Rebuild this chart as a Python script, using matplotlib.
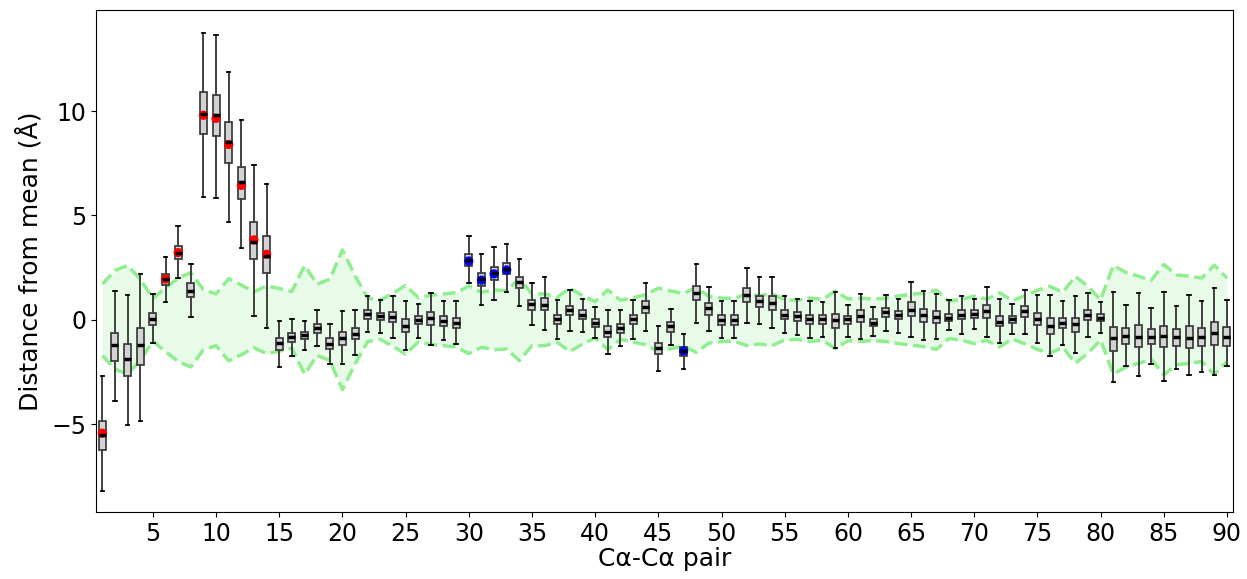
import numpy as np
import matplotlib
matplotlib.use("Agg")
from matplotlib import pyplot as plt

# Ca-Ca pair index
pairs = list(range(1, 91))

# box statistics (Angstrom)
med = [-5.53, -1.23, -1.87, -1.20, 0.02, 1.95, 3.22, 1.39, 9.86, 9.81,
       8.52, 6.60, 3.72, 3.05, -1.13, -0.83, -0.75, -0.40, -1.16, -0.86,
       -0.66, 0.27, 0.16, 0.14, -0.29, -0.02, 0.08, -0.05, -0.13, 2.87,
       1.95, 2.23, 2.42, 1.80, 0.75, 0.73, 0.03, 0.45, 0.25, -0.13,
       -0.57, -0.40, 0.03, 0.61, -1.34, -0.32, -1.50, 1.29, 0.56, 0.00,
       0.00, 1.21, 0.89, 0.81, 0.25, 0.16, 0.02, 0.03, 0.00, 0.02,
       0.18, -0.13, 0.35, 0.21, 0.49, 0.21, 0.13, 0.10, 0.22, 0.30,
       0.43, -0.10, 0.03, 0.42, 0.03, -0.30, -0.14, -0.18, 0.21, 0.10,
       -0.88, -0.77, -0.80, -0.80, -0.77, -0.80, -0.88, -0.83, -0.61, -0.80]
q1 = [-6.22, -1.95, -2.68, -2.17, -0.26, 1.66, 2.90, 1.10, 8.92, 8.82,
      7.53, 5.77, 2.89, 2.23, -1.44, -1.07, -0.91, -0.62, -1.40, -1.20,
      -0.91, 0.06, 0.00, -0.11, -0.57, -0.22, -0.24, -0.29, -0.40, 2.60,
      1.63, 1.91, 2.19, 1.51, 0.48, 0.45, -0.22, 0.21, 0.03, -0.35,
      -0.83, -0.62, -0.22, 0.32, -1.63, -0.57, -1.74, 0.94, 0.25, -0.26,
      -0.24, 0.85, 0.61, 0.48, 0.03, -0.06, -0.22, -0.18, -0.37, -0.22,
      -0.11, -0.30, 0.13, 0.02, 0.16, -0.10, -0.14, -0.05, 0.02, 0.10,
      0.11, -0.32, -0.14, 0.14, -0.25, -0.66, -0.40, -0.57, -0.02, -0.08,
      -1.48, -1.16, -1.28, -1.15, -1.32, -1.26, -1.36, -1.24, -1.20, -1.24]
q3 = [-4.83, -0.61, -1.15, -0.41, 0.32, 2.20, 3.54, 1.74, 10.90, 10.78,
      9.46, 7.32, 4.69, 4.02, -0.88, -0.64, -0.59, -0.19, -0.89, -0.57,
      -0.40, 0.48, 0.33, 0.35, 0.03, 0.19, 0.35, 0.16, 0.11, 3.14,
      2.23, 2.55, 2.74, 2.04, 0.96, 1.05, 0.25, 0.67, 0.46, 0.06,
      -0.32, -0.19, 0.24, 0.89, -1.09, -0.10, -1.29, 1.63, 0.80, 0.21,
      0.21, 1.51, 1.15, 1.12, 0.48, 0.38, 0.21, 0.21, 0.29, 0.19,
      0.48, 0.06, 0.57, 0.42, 0.85, 0.51, 0.42, 0.30, 0.49, 0.48,
      0.70, 0.19, 0.19, 0.64, 0.32, 0.08, 0.11, 0.10, 0.48, 0.29,
      -0.33, -0.41, -0.26, -0.45, -0.30, -0.43, -0.30, -0.37, -0.10, -0.33]
whislo = [-8.18, -3.88, -5.04, -4.83, -1.12, 0.83, 1.99, 0.14, 5.90, 5.85,
          4.67, 3.46, 0.19, -0.41, -2.26, -1.74, -1.47, -1.24, -2.11, -2.14,
          -1.71, -0.57, -0.61, -0.88, -1.44, -0.85, -1.21, -0.96, -1.16, 1.75,
          0.72, 0.96, 1.32, 0.64, -0.26, -0.49, -0.92, -0.54, -0.59, -0.88,
          -1.64, -1.26, -0.92, -0.53, -2.47, -1.21, -2.36, -0.13, -0.53, -0.88,
          -0.88, -0.14, -0.21, -0.41, -0.64, -0.73, -0.85, -0.83, -1.36, -0.81,
          -0.91, -0.78, -0.54, -0.61, -0.81, -0.99, -0.92, -0.49, -0.68, -0.43,
          -0.83, -1.09, -0.66, -0.68, -1.09, -1.72, -1.21, -1.59, -0.81, -0.61,
          -3.00, -2.23, -2.68, -2.14, -2.92, -2.36, -2.63, -2.49, -2.63, -2.23]
whishi = [-2.71, 1.36, 1.20, 2.19, 1.23, 3.00, 4.48, 2.68, 13.76, 13.64,
          11.88, 9.55, 7.42, 6.52, -0.05, 0.05, -0.06, 0.49, -0.18, 0.43,
          0.46, 1.15, 0.96, 1.12, 0.92, 0.77, 1.28, 0.89, 0.89, 4.02,
          3.16, 3.51, 3.62, 2.92, 1.75, 2.04, 0.96, 1.42, 1.02, 0.61,
          0.49, 0.48, 0.96, 1.75, -0.29, 0.53, -0.68, 2.69, 1.59, 0.89,
          0.89, 2.49, 2.03, 2.06, 1.15, 0.99, 0.91, 0.86, 1.31, 0.73,
          1.24, 0.59, 1.20, 0.99, 1.82, 1.36, 1.23, 0.96, 1.15, 1.02,
          1.56, 0.99, 0.75, 1.42, 1.18, 1.18, 0.89, 1.12, 1.28, 0.85,
          1.31, 0.72, 1.29, 0.57, 1.32, 0.67, 1.18, 0.91, 1.51, 0.96]

# half width of the shaded reference band
band = [1.71, 2.37, 2.60, 1.95, 1.02, 1.52, 2.00, 2.26, 1.44, 1.24,
        1.97, 1.67, 1.34, 1.62, 1.50, 1.36, 2.60, 1.71, 1.95, 3.35,
        2.11, 1.04, 0.94, 1.27, 1.65, 1.06, 1.18, 1.24, 1.30, 1.62,
        1.32, 1.43, 1.40, 1.96, 1.24, 1.24, 1.08, 1.52, 1.16, 0.87,
        1.43, 0.94, 1.06, 1.20, 1.52, 1.38, 1.26, 1.56, 1.12, 1.04,
        1.02, 1.24, 1.16, 1.24, 0.96, 0.94, 1.04, 0.98, 1.38, 1.00,
        1.04, 0.99, 1.04, 1.14, 1.22, 1.28, 1.42, 0.90, 0.98, 1.14,
        0.99, 1.30, 0.92, 1.15, 1.42, 1.60, 1.32, 2.08, 1.60, 0.96,
        2.60, 2.27, 2.09, 1.89, 2.65, 2.15, 2.09, 2.00, 2.62, 2.00]

# highlighted pairs
dot_pairs = [1, 6, 7, 9, 10, 11, 12, 13, 14, 30, 31, 32, 33, 47]
dot_vals = [-5.43, 1.95, 3.22, 9.80, 9.65, 8.40, 6.44, 3.83, 3.14, 2.82, 1.90, 2.20, 2.39, -1.50]
dot_cols = ['red'] * 9 + ['blue'] * 5

fig = plt.figure(figsize=(12.47, 5.79), dpi=100)
ax = fig.add_axes([0.077, 0.116, 0.912, 0.867])

band = np.array(band)
ax.fill_between(pairs, -band, band, color='lightgreen', alpha=0.2, linewidth=0, zorder=1)
ax.plot(pairs, band, '--', color='lightgreen', lw=2.5, zorder=1)
ax.plot(pairs, -band, '--', color='lightgreen', lw=2.5, zorder=1)

stats = []
for i in range(len(pairs)):
    stats.append(dict(med=med[i], q1=q1[i], q3=q3[i], whislo=whislo[i], whishi=whishi[i], fliers=[]))

ax.bxp(stats, positions=pairs, widths=0.55, patch_artist=True, showfliers=False, manage_ticks=False,
       boxprops=dict(facecolor='lightgrey', edgecolor='#333333', linewidth=1.2, zorder=2),
       whiskerprops=dict(color='#404040', linewidth=1.4, zorder=2),
       capprops=dict(color='black', linewidth=1.3, zorder=2),
       medianprops=dict(color='black', linewidth=2.5, zorder=4))

ax.scatter(dot_pairs, dot_vals, c=dot_cols, s=32, zorder=3)

ax.set_xlim(0.5, 90.5)
ax.set_ylim(-9.2, 14.85)
ax.set_xticks(range(5, 91, 5))
ax.set_yticks([-5, 0, 5, 10])
ax.tick_params(labelsize=17)
ax.set_xlabel('Cα-Cα pair', fontsize=18, labelpad=1)
ax.set_ylabel('Distance from mean (Å)', fontsize=18, labelpad=6)

fig.savefig('out.png', dpi=100)
